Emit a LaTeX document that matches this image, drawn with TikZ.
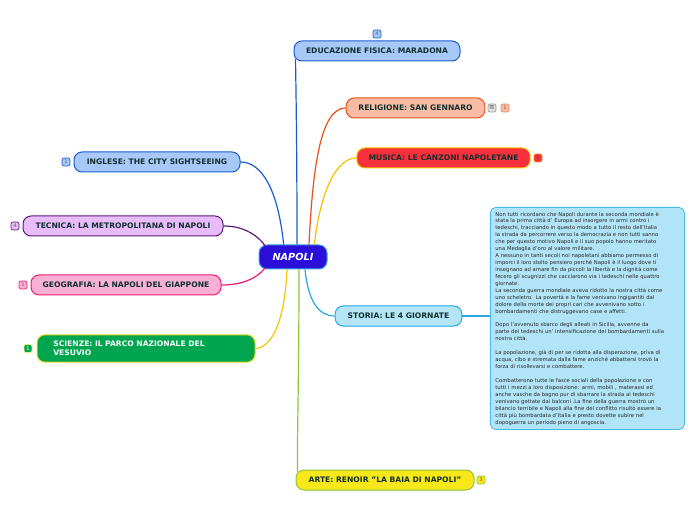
\documentclass[tikz,border=0pt]{standalone}
\usepackage{fontspec}
\setmainfont{DejaVu Sans}[Ligatures=ResetAll]

\definecolor{bluefill}{HTML}{A8C8F8}
\definecolor{blueline}{HTML}{1A5CD0}
\definecolor{relfill}{HTML}{F8BCA4}
\definecolor{relline}{HTML}{E8501C}
\definecolor{musfill}{HTML}{F8303C}
\definecolor{musline}{HTML}{F5C000}
\definecolor{stofill}{HTML}{B4E6F8}
\definecolor{stoline}{HTML}{28A8E0}
\definecolor{artfill}{HTML}{F8E81A}
\definecolor{artline}{HTML}{8CC43C}
\definecolor{tecfill}{HTML}{E8BCF8}
\definecolor{tecline}{HTML}{5C1A78}
\definecolor{geofill}{HTML}{F8B0D4}
\definecolor{geoline}{HTML}{F01874}
\definecolor{scifill}{HTML}{00A550}
\definecolor{sciline}{HTML}{E8DC20}
\definecolor{napfill}{HTML}{2B0FD8}
\definecolor{napline}{HTML}{38A0E0}
\definecolor{notefill}{HTML}{B2E4F8}
\definecolor{noteline}{HTML}{48B8EC}
\definecolor{titletext}{HTML}{103030}

\begin{document}
\begin{tikzpicture}[x=0.75pt,y=-0.75pt]
    \useasboundingbox (0,0) rectangle (696,520);

    \tikzset{branch/.style={draw, rounded corners=6pt, line width=0.75pt, minimum height=15pt,
                inner sep=0pt, text=titletext, font=\fontsize{5.7}{6.8}\selectfont\bfseries},
             badge/.style={draw, rounded corners=1.5pt, line width=0.5pt, minimum size=6pt,
                inner sep=0pt, text=black!65, font=\fontsize{3.8}{3.8}\selectfont},
             link/.style={line width=0.9pt}}

    % centre
    \node[branch, fill=napfill, draw=napline, minimum width=51pt, minimum height=18pt,
          text=white, font=\fontsize{7.3}{8}\selectfont\bfseries\itshape] (napoli) at (293,257) {NAPOLI};

    % right side
    \node[branch, fill=bluefill, draw=blueline, minimum width=124.5pt] (edu) at (377,51) {EDUCAZIONE FISICA: MARADONA};
    \node[branch, fill=relfill, draw=relline, minimum width=104pt] (rel) at (415.5,108) {RELIGIONE: SAN GENNARO};
    \node[branch, fill=musfill, draw=musline, minimum width=130pt] (mus) at (443.5,158) {MUSICA: LE CANZONI NAPOLETANE};
    \node[branch, fill=stofill, draw=stoline, minimum width=95pt] (sto) at (398.5,316) {STORIA: LE 4 GIORNATE};
    \node[branch, fill=artfill, draw=artline, minimum width=133.5pt] (arte) at (385,480)
          {ARTE: RENOIR "LA BAIA DI NAPOLI"};

    % left side
    \node[branch, fill=bluefill, draw=blueline, minimum width=124.5pt] (ingl) at (157,162) {INGLESE: THE CITY SIGHTSEEING};
    \node[branch, fill=tecfill, draw=tecline, minimum width=150pt] (tec) at (123,226) {TECNICA: LA METROPOLITANA DI NAPOLI};
    \node[branch, fill=geofill, draw=geoline, minimum width=142.5pt] (geo) at (126,285) {GEOGRAFIA: LA NAPOLI DEL GIAPPONE};
    \node[branch, fill=scifill, draw=sciline, minimum width=163.5pt, minimum height=20.5pt, text=white,
          text width=139pt, align=left, inner xsep=12pt] (sci) at (146,348.5) {SCIENZE: IL PARCO NAZIONALE DEL\\VESUVIO};

    % note
    \node[draw=noteline, fill=notefill, rounded corners=4pt, line width=0.6pt, anchor=north west,
          minimum width=145.5pt, minimum height=164pt, text width=138pt, align=left, inner xsep=3.5pt,
          text=black!85, font=\fontsize{3.95}{5.2}\selectfont] (nota) at (490,207) {%
Non tutti ricordano che Napoli durante la seconda mondiale è\\
stata la prima città d' Europa ad insorgere in armi contro i\\
tedeschi, tracciando in questo modo a tutto il resto dell'Italia\\
la strada da percorrere verso la democrazia e non tutti sanno\\
che per questo motivo Napoli e il suo popolo hanno meritato\\
una Medaglia d'oro al valore militare.\\
A nessuno in tanti secoli noi napoletani abbiamo permesso di\\
imporci il loro stolto pensiero perché Napoli è il luogo dove ti\\
insegnano ad amare fin da piccoli la libertà e la dignità come\\
fecero gli scugnizzi che cacciarono via i tedeschi nelle quattro\\
giornate.\\
La seconda guerra mondiale aveva ridotto la nostra città come\\
uno scheletro. La povertà e la fame venivano ingigantiti dal\\
dolore della morte dei propri cari che avvenivano sotto i\\
bombardamenti che distruggevano case e affetti.\\[5.2pt]
Dopo l'avvenuto sbarco degli alleati in Sicilia, avvenne da\\
parte dei tedeschi un' intensificazione dei bombardamenti sulla\\
nostra città.\\[5.2pt]
La popolazione, già di per se ridotta alla disperazione, priva di\\
acqua, cibo e stremata dalla fame anziché abbattersi trovò la\\
forza di risollevarsi e combattere.\\[5.2pt]
Combatterono tutte le fasce sociali della popolazione e con\\
tutti i mezzi a loro disposizione: armi, mobili , materassi ed\\
anche vasche da bagno pur di sbarrare la strada ai tedeschi\\
venivano gettate dai balconi .La fine della guerra mostrò un\\
bilancio terribile e Napoli alla fine del conflitto risultò essere la\\
città più bombardata d'Italia e presto dovette subire nel\\
dopoguerra un periodo pieno di angoscia.};

    % badges
    \node[badge, fill=bluefill, draw=blueline] (b-edu) at (377,34) {4};
    \node[badge, fill=black!12, draw=black!40, text=black!70, font=\fontsize{5}{5}\selectfont] (b-rel-note) at (492,108) {≡};
    \node[badge, fill=relfill, draw=relline!70] (b-rel) at (505,108) {1};
    \node[badge, fill=musfill, draw=musline!60!musfill, text=black!75] (b-mus) at (538,158) {1};
    \node[badge, fill=artfill, draw=artline] (b-arte) at (481,480) {3};
    \node[badge, fill=bluefill, draw=blueline] (b-ingl) at (66,162) {1};
    \node[badge, fill=tecfill, draw=tecline] (b-tec) at (15,226) {4};
    \node[badge, fill=geofill, draw=geoline] (b-geo) at (23,285) {1};
    \node[badge, fill=scifill, draw=sciline!60, text=white] (b-sci) at (28,348.5) {1};

    % connectors
    \draw[link, blueline] ([xshift=3pt]napoli.north) .. controls (297,150) and (296,90) .. ([xshift=1.5pt,yshift=2pt]edu.south west);
    \draw[link, relline] ([xshift=12pt]napoli.north) .. controls (313,160) and (322,108) .. (rel.west);
    \draw[link, musline] ([xshift=16pt]napoli.north) .. controls (320,195) and (335,158) .. (mus.west);
    \draw[link, stoline] ([xshift=9pt]napoli.south) .. controls (308,300) and (318,316) .. (sto.west);
    \draw[link, artline] ([xshift=4.5pt]napoli.south) .. controls (299,380) and (297,440) .. ([xshift=1.5pt,yshift=-2pt]arte.north west);
    \draw[link, blueline] ([xshift=-7pt]napoli.north) .. controls (278,190) and (262,162) .. (ingl.east);
    \draw[link, tecline] ([xshift=5pt,yshift=-1pt]napoli.north west) .. controls (255,232) and (240,226) .. (tec.east);
    \draw[link, geoline] ([xshift=5pt,yshift=1pt]napoli.south west) .. controls (255,280) and (240,285) .. (geo.east);
    \draw[link, musline!80!sciline] ([xshift=-4.5pt]napoli.south) .. controls (285,320) and (272,348) .. (sci.east);
    \draw[link, stoline] (sto.east) -- (nota.west |- sto.east);

\end{tikzpicture}
\end{document}
